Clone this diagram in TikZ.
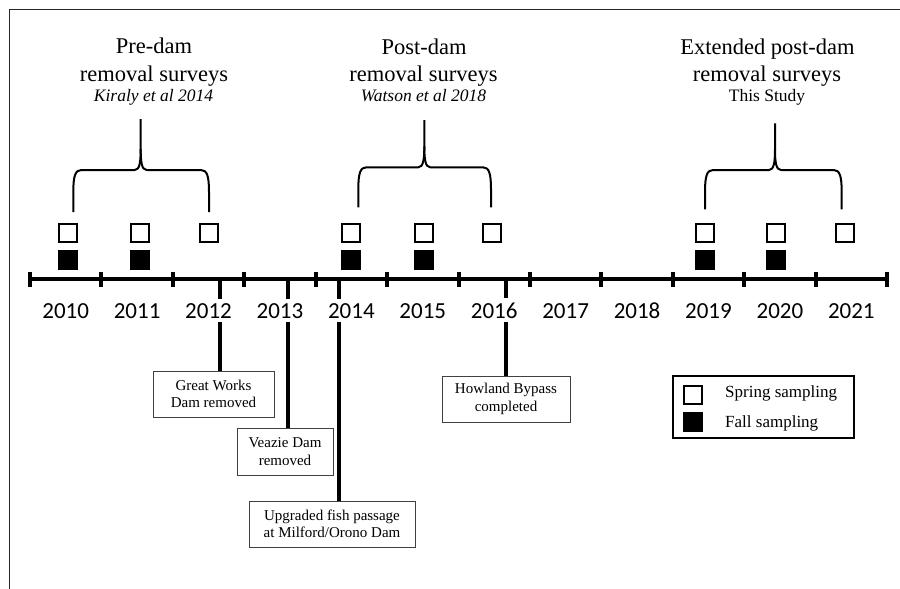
\documentclass[tikz,border=0pt]{standalone}
\usepackage{fontspec}
\setmainfont{Liberation Serif}
\newfontfamily\yearfont{Carlito}
\newcommand\drawbrace[6]{% #1 L, #2 R, #3 tip x, #4 bar y, #5 tip top, #6 leg bottom
  \draw[brc] (#1,#6) -- (#1,{#4+22}) .. controls (#1,{#4+6}) and ({#1+2},#4) .. ({#1+8},#4) -- ({#3-6},#4) .. controls ({#3-1},#4) and (#3,{#4-8}) .. (#3,{#4-21}) -- (#3,#5);
  \draw[brc] (#2,#6) -- (#2,{#4+22}) .. controls (#2,{#4+6}) and ({#2-2},#4) .. ({#2-8},#4) -- ({#3+6},#4) .. controls ({#3+1},#4) and (#3,{#4-8}) .. (#3,{#4-21});
}
\begin{document}
\begin{tikzpicture}[x=1pt,y=-1pt,
  axisline/.style={line width=4pt},
  tickmark/.style={line width=4pt},
  evline/.style={line width=4pt},
  brc/.style={line width=2pt, line join=round},
  spring/.style={draw, line width=2pt, minimum size=18pt, inner sep=0pt, fill=white},
  fall/.style={fill=black, minimum size=20pt, inner sep=0pt},
  evbox/.style={draw=black!75, line width=1pt, fill=white, align=center, font=\fontsize{15}{17.5}\selectfont, inner sep=0pt},
  yr/.style={font=\yearfont\fontsize{23}{27}\selectfont, anchor=base, fill=white, inner xsep=1pt, inner ysep=4pt},
  hd/.style={font=\fontsize{22.5}{27}\selectfont, anchor=base, inner sep=0pt},
  cite/.style={font=\itshape\fontsize{17.5}{21}\selectfont, anchor=base, inner sep=0pt},
  legtext/.style={font=\fontsize{17}{20}\selectfont, anchor=base west, inner sep=0pt},
]
\useasboundingbox (0,0) rectangle (900,589);
% frame
\draw[line width=1pt, black!85] (9,589) -- (9,9) -- (900,9);

% headings
\node[hd] (pre1) at (154,53.3) {Pre-dam};
\node[hd] (pre2) at (154,81) {removal surveys};
\node[cite] (pre3) at (153.5,101) {Kiraly et al 2014};
\node[hd] (post1) at (424,54) {Post-dam};
\node[hd] (post2) at (423.5,81) {removal surveys};
\node[cite] (post3) at (423.5,101) {Watson et al 2018};
\node[hd] (ext1) at (767.5,54) {Extended post-dam};
\node[hd] (ext2) at (767,81) {removal surveys};
\node[legtext, anchor=base, font=\fontsize{17.5}{21}\selectfont] (ext3) at (767,101.5) {This Study};

% braces
\drawbrace{73.3}{209}{140.7}{170}{119}{212}
\drawbrace{358.3}{491}{424.3}{167.3}{120}{207.3}
\drawbrace{705}{841.7}{775}{170}{123.3}{209.3}

% sampling squares
\foreach \x [count=\i] in {68,140,209,351,424,492,705,776,845}
  \node[spring] (sp\i) at (\x,232.5) {};
\foreach \x [count=\i] in {68,140,351,424,705,776}
  \node[fall] (fa\i) at (\x,259.5) {};

% axis
\coordinate (ax0) at (30,279);
\coordinate (ax1) at (887,279);
\draw[axisline] (ax0) -- (ax1);
\foreach \i in {0,...,12}
  \draw[tickmark] ({30+71.42*\i},272) -- ({30+71.42*\i},287);

% event boxes
\node[evbox, minimum width=121pt, minimum height=46pt] (gw) at (213.5,394) {Great Works\\Dam removed};
\node[evbox, minimum width=96pt, minimum height=47pt] (vz) at (285,451.5) {Veazie Dam\\removed};
\node[evbox, minimum width=166pt, minimum height=46pt] (up) at (332,524) {Upgraded fish passage\\at Milford/Orono Dam};
\node[evbox, minimum width=128pt, minimum height=46pt] (hw) at (506,399) {Howland Bypass\\completed};

% event lines
\coordinate (e12) at (220,279);
\coordinate (e13) at (287.5,279);
\coordinate (e14) at (339,279);
\coordinate (e16) at (506,279);
\draw[evline] (e12) -- (e12 |- gw.north);
\draw[evline] (e13) -- (e13 |- vz.north);
\draw[evline] (e14) -- (e14 |- up.north);
\draw[evline] (e16) -- (hw.north);

% year labels
\foreach \y [count=\i from 0] in {2010,2011,2012,2013,2014,2015,2016,2017,2018,2019,2020,2021}
  \node[yr] (y\y) at ({65.7+71.42*\i},318) {\y};

% legend
\node[draw, line width=2pt, minimum width=181pt, minimum height=62pt] (lg) at (763.5,407) {};
\node[spring] (ls) at (693,394.5) {};
\node[fall] (lf) at (693,422) {};
\node[legtext] (lst) at (725,397) {Spring sampling};
\node[legtext] (lft) at (725,427) {Fall sampling};
\end{tikzpicture}
\end{document}
